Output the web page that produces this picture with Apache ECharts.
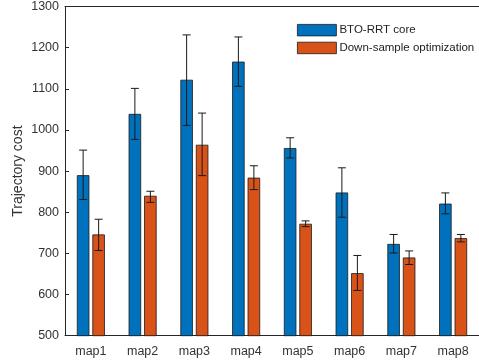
<!DOCTYPE html>
<html>
<head>
<meta charset="utf-8">
<script src="https://cdn.jsdelivr.net/npm/echarts@6/dist/echarts.min.js"></script>
<style>html,body{margin:0;padding:0;background:#fff;}#c{width:479px;height:362px;}</style>
</head>
<body>
<div id="c"></div>
<script>
var categories = ['map1','map2','map3','map4','map5','map6','map7','map8'];
var seriesNames = ['BTO-RRT core','Down-sample optimization'];
var coreMean = [890, 1039, 1122, 1166, 956, 848, 723, 821];
var coreLow  = [831, 977, 1011, 1106, 932, 788, 701, 796];
var coreHigh = [951, 1101, 1231, 1226, 981, 908, 746, 847];
var downMean = [746, 840, 964, 884, 772, 652, 690, 737];
var downLow  = [707, 824, 889, 855, 765, 610, 673, 728];
var downHigh = [783, 851, 1041, 913, 779, 695, 706, 746];
var yTicks = {min: 500, max: 1300, interval: 100};

var BAR_W = 12.5, GAP = 3;
function errData(lo, hi) {
  return categories.map(function (c, i) { return [i, lo[i], hi[i]]; });
}
function errRender(offset) {
  return function (params, api) {
    var i = api.value(0);
    var pLo = api.coord([i, api.value(1)]);
    var pHi = api.coord([i, api.value(2)]);
    var x = pLo[0] + offset;
    var cap = 4;
    var st = {stroke: '#1a1a1a', lineWidth: 1};
    return {type: 'group', children: [
      {type: 'line', shape: {x1: x, y1: pLo[1], x2: x, y2: pHi[1]}, style: st},
      {type: 'line', shape: {x1: x - cap, y1: pLo[1], x2: x + cap, y2: pLo[1]}, style: st},
      {type: 'line', shape: {x1: x - cap, y1: pHi[1], x2: x + cap, y2: pHi[1]}, style: st}
    ]};
  };
}

var chart = echarts.init(document.getElementById('c'), null, {renderer: 'canvas'});
var txt = '#333333';
chart.setOption({
  animation: false,
  textStyle: {fontFamily: 'Liberation Sans, Arial, sans-serif'},
  grid: {left: 65, right: -4, top: 6.5, bottom: 26.3, containLabel: false},
  legend: {
    data: seriesNames,
    orient: 'vertical',
    left: 292, top: 19,
    itemWidth: 39, itemHeight: 11.5, itemGap: 5.5,
    itemStyle: {borderWidth: 0.8, borderColor: '#1a1a1a'},
    textStyle: {fontSize: 11.5, color: '#222', padding: [0, 0, 0, -2]},
    icon: 'rect'
  },
  xAxis: [{
    type: 'category', data: categories, position: 'bottom',
    axisLine: {lineStyle: {color: '#262626', width: 1}},
    axisTick: {inside: true, length: 4, alignWithLabel: true, lineStyle: {color: '#262626'}},
    axisLabel: {fontSize: 12.5, color: txt, margin: 9},
    splitLine: {show: false}
  }, {
    type: 'category', data: categories, position: 'top',
    axisLine: {lineStyle: {color: '#262626', width: 1}},
    axisTick: {inside: true, length: 4, alignWithLabel: true, lineStyle: {color: '#262626'}},
    axisLabel: {show: false},
    splitLine: {show: false}
  }],
  yAxis: {
    type: 'value', min: yTicks.min, max: yTicks.max, interval: yTicks.interval,
    name: 'Trajectory cost', nameLocation: 'middle', nameGap: 40, nameMoveOverlap: false,
    nameTextStyle: {fontSize: 14, color: txt},
    axisLine: {show: true, lineStyle: {color: '#262626', width: 1}},
    axisTick: {show: true, inside: true, length: 4, lineStyle: {color: '#262626'}},
    axisLabel: {fontSize: 12.5, color: txt, margin: 6, formatter: function (v) { return String(v); }},
    splitLine: {show: false}
  },
  series: [{
    name: seriesNames[0], type: 'bar', data: coreMean,
    barWidth: BAR_W, barGap: (GAP / BAR_W * 100) + '%',
    itemStyle: {color: '#0072BD', borderColor: '#1a1a1a', borderWidth: 0.8}
  }, {
    name: seriesNames[1], type: 'bar', data: downMean,
    barWidth: BAR_W,
    itemStyle: {color: '#D95319', borderColor: '#1a1a1a', borderWidth: 0.8}
  }, {
    type: 'custom', data: errData(coreLow, coreHigh),
    renderItem: errRender(-(BAR_W + GAP) / 2), z: 5, silent: true
  }, {
    type: 'custom', data: errData(downLow, downHigh),
    renderItem: errRender((BAR_W + GAP) / 2), z: 5, silent: true
  }]
});
</script>
</body>
</html>
